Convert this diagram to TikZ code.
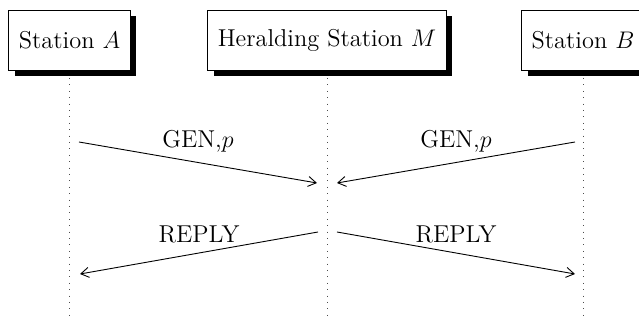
\documentclass[tikz,border=0pt]{standalone}
\usetikzlibrary{arrows.meta,shadows}
\begin{document}
\begin{tikzpicture}[x=0.5pt,y=-0.5pt,
  station/.style={draw=black,line width=0.4pt,fill=white,minimum height=30pt,inner xsep=5pt,
    font=\fontsize{12.2}{14}\selectfont,
    drop shadow={shadow xshift=3pt,shadow yshift=-3pt,fill=black,opacity=1}},
  life/.style={draw=black!70,line width=0.4pt,dash pattern=on 0.5pt off 2.7pt},
  msg/.style={draw=black,line width=0.45pt,-{Straight Barb[length=4pt,width=5pt]}},
  lbl/.style={font=\fontsize{12.2}{14}\selectfont,above=1.5pt}]
\useasboundingbox (0,0) rectangle (639,320);
\node[station] (A) at (69.5,40) {Station $A$};
\node[station] (M) at (327,40) {Heralding Station $M$};
\node[station] (B) at (583,40) {Station $B$};
\coordinate (Atop) at (69.5,78); \coordinate (Abot) at (69.5,320);
\coordinate (Mtop) at (327,78); \coordinate (Mbot) at (327,320);
\coordinate (Btop) at (583,78); \coordinate (Bbot) at (583,320);
\draw[life] (Atop) -- (Abot);
\draw[life] (Mtop) -- (Mbot);
\draw[life] (Btop) -- (Bbot);
\coordinate (a1) at (79,142); \coordinate (m1) at (317,183);
\coordinate (b1) at (575,142); \coordinate (m2) at (337,183);
\coordinate (m3) at (318,232); \coordinate (a2) at (80,274);
\coordinate (m4) at (337,232); \coordinate (b2) at (575,274);
\draw[msg] (a1) -- node[lbl] {GEN,$p$} (m1);
\draw[msg] (b1) -- node[lbl] {GEN,$p$} (m2);
\draw[msg] (m3) -- node[lbl] {REPLY} (a2);
\draw[msg] (m4) -- node[lbl] {REPLY} (b2);
\end{tikzpicture}
\end{document}
